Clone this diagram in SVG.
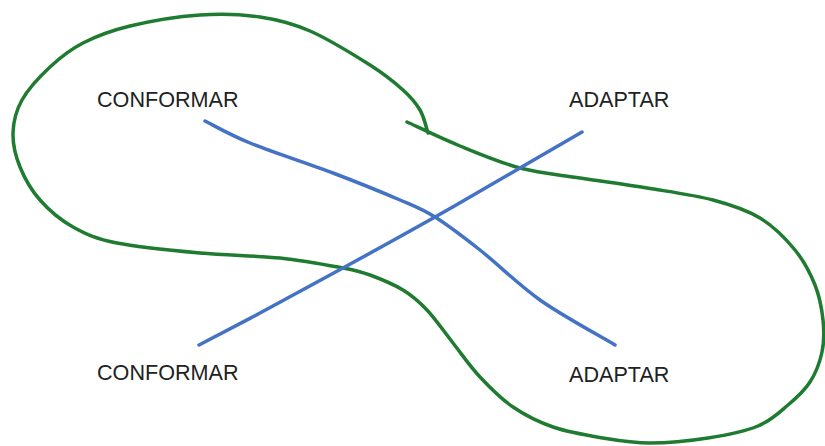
<svg xmlns="http://www.w3.org/2000/svg" width="825" height="446" viewBox="0 0 825 446">
<style>
.lbl{font-family:"Liberation Sans",Arial,sans-serif;font-size:21.6px;fill:#222222}
.blue{fill:none;stroke:#4472C4;stroke-width:3.5;stroke-linecap:round;stroke-linejoin:round}
.green{fill:none;stroke:#1E7B30;stroke-width:3.5;stroke-linecap:round;stroke-linejoin:round}
</style>
<rect width="825" height="446" fill="#ffffff"/>
<g id="connectors">
<path id="loop" class="green" d="M407,122 C415.8,126 441.2,138.3 460,146 C478.8,153.7 500,162.7 520,168 C540,173.3 558.8,174.7 580,178 C601.2,181.3 624.8,184.3 647,188 C669.2,191.7 694.2,195 713,200 C731.8,205 746.3,209.7 760,218 C773.7,226.3 785.8,238.8 795,250 C804.2,261.2 810.3,273.3 815,285 C819.7,296.7 821.8,308.8 823,320 C824.2,331.2 824.2,341.7 822,352 C819.8,362.3 815.7,373.2 810,382 C804.3,390.8 796.7,397.7 788,405 C779.3,412.3 771.3,420.5 758,426 C744.7,431.5 726,435.2 708,438 C690,440.8 667.5,443 650,443 C632.5,443 619.2,440.7 603,438 C586.8,435.3 568,432.2 553,427 C538,421.8 525.2,415.3 513,407 C500.8,398.7 490,387.7 480,377 C470,366.3 461.8,354.2 453,343 C444.2,331.8 435.3,318.8 427,310 C418.7,301.2 412.5,295.8 403,290 C393.5,284.2 380,278.7 370,275 C360,271.3 358,270.8 343,268 C328,265.2 303.8,260.5 280,258 C256.2,255.5 227.2,255.5 200,253 C172.8,250.5 138.2,247.3 117,243 C95.8,238.7 85.8,234.2 73,227 C60.2,219.8 48.8,210 40,200 C31.2,190 24.5,178.2 20,167 C15.5,155.8 12.7,144.2 13,133 C13.3,121.8 15.8,111 22,100 C28.2,89 39.8,76.5 50,67 C60.2,57.5 69.7,49.8 83,43 C96.3,36.2 110.5,30.7 130,26 C149.5,21.3 178.3,16.5 200,15 C221.7,13.5 241.7,14.3 260,17 C278.3,19.7 291.7,23 310,31 C328.3,39 354.5,55.2 370,65 C385.5,74.8 394.7,82.5 403,90 C411.3,97.5 415.8,102.8 420,110 C424.2,117.2 426.7,129.2 428,133"/>
<path id="line-conformar-adaptar" class="blue" d="M205,121 C212.5,124.7 228.7,134.3 250,143 C271.3,151.7 308,163.5 333,173 C358,182.5 383,192.7 400,200 C417,207.3 421.7,208.7 435,217 C448.3,225.3 462.5,236.2 480,250 C497.5,263.8 517.8,284.2 540,300 C562.2,315.8 602.8,337.5 615,345"/>
<path id="line-conformar-adaptar-2" class="blue" d="M199,345 C209.2,339.7 236,325.8 260,313 C284,300.2 313.8,284 343,268 C372.2,252 405.5,233.7 435,217 C464.5,200.3 495.5,182.2 520,168 C544.5,153.8 571.7,138 582,132"/>
</g>
<g id="conformar-top"><text class="lbl" x="97" y="107">CONFORMAR</text></g>
<g id="adaptar-top"><text class="lbl" x="569" y="107">ADAPTAR</text></g>
<g id="conformar-bottom"><text class="lbl" x="97" y="380">CONFORMAR</text></g>
<g id="adaptar-bottom"><text class="lbl" x="569" y="382">ADAPTAR</text></g>
</svg>
